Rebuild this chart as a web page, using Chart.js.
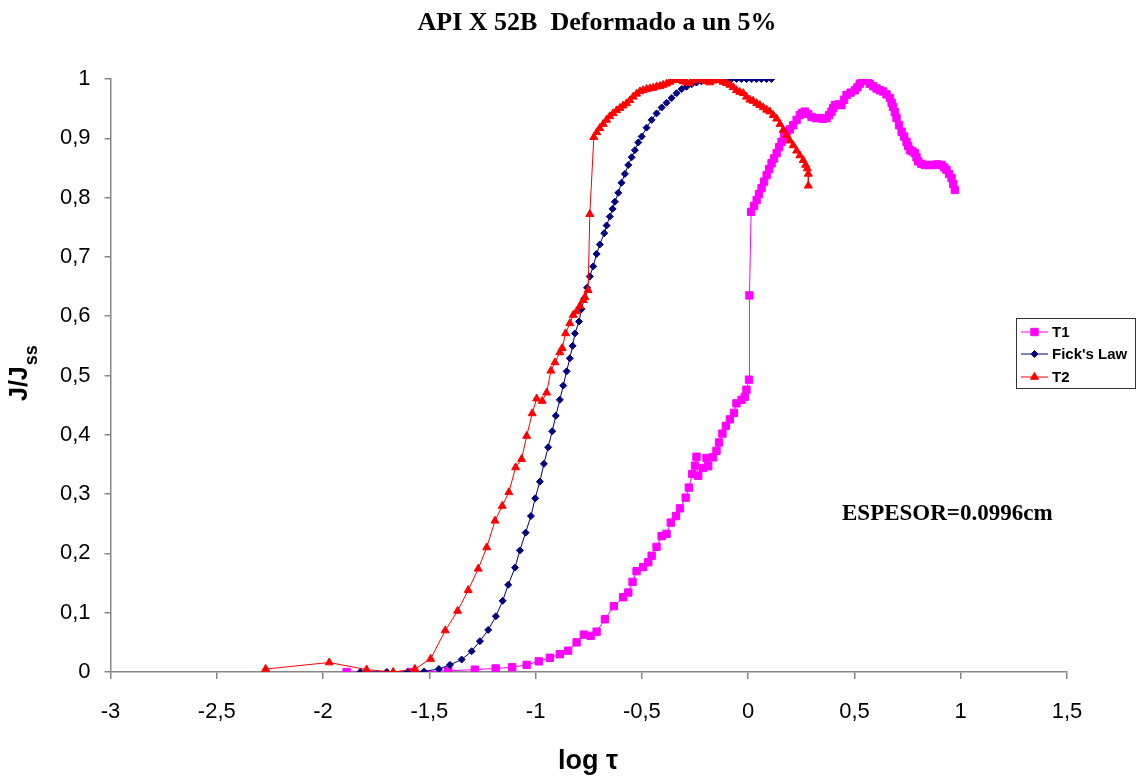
<!DOCTYPE html>
<html>
<head>
<meta charset="utf-8">
<script src="https://cdn.jsdelivr.net/npm/chart.js@4.4.0/dist/chart.umd.min.js"></script>
<style>
  body { margin: 0; background: #fff; }
  canvas { display: block; }
</style>
</head>
<body>
<canvas id="permChart" width="1137" height="782"></canvas>
<script>
// values: [log tau, J/Jss]
var t1Points = [
  [-1.889, 0], [-1.587, 0], [-1.411, 0.002], [-1.286, 0.004], [-1.188, 0.006], [-1.110, 0.008],
  [-1.042, 0.012], [-0.985, 0.018], [-0.933, 0.024], [-0.886, 0.030], [-0.847, 0.036], [-0.807, 0.050],
  [-0.773, 0.063], [-0.741, 0.061], [-0.713, 0.068], [-0.674, 0.089], [-0.632, 0.111], [-0.588, 0.126],
  [-0.564, 0.134], [-0.544, 0.152], [-0.525, 0.170], [-0.494, 0.177], [-0.470, 0.185], [-0.454, 0.196],
  [-0.431, 0.211], [-0.407, 0.229], [-0.384, 0.233], [-0.364, 0.252], [-0.340, 0.263], [-0.321, 0.276],
  [-0.294, 0.294], [-0.279, 0.311], [-0.263, 0.334], [-0.250, 0.348], [-0.243, 0.363], [-0.235, 0.331],
  [-0.212, 0.344], [-0.196, 0.361], [-0.188, 0.347], [-0.165, 0.362], [-0.149, 0.373], [-0.137, 0.387],
  [-0.121, 0.402], [-0.105, 0.415], [-0.086, 0.426], [-0.067, 0.437], [-0.055, 0.453], [-0.031, 0.459],
  [-0.016, 0.464], [-0.008, 0.476], [0.004, 0.493], [0.006, 0.635], [0.014, 0.776],
  [0.028, 0.786], [0.040, 0.796], [0.051, 0.806], [0.063, 0.816], [0.075, 0.827], [0.087, 0.838],
  [0.099, 0.848], [0.110, 0.858], [0.122, 0.866], [0.134, 0.875], [0.146, 0.885], [0.157, 0.894],
  [0.169, 0.903], [0.181, 0.911], [0.196, 0.915], [0.212, 0.922], [0.228, 0.931], [0.243, 0.939],
  [0.255, 0.943], [0.267, 0.945], [0.282, 0.941], [0.298, 0.936], [0.318, 0.934], [0.337, 0.934],
  [0.353, 0.933], [0.369, 0.934], [0.381, 0.939], [0.392, 0.945], [0.400, 0.951], [0.408, 0.956],
  [0.424, 0.957], [0.439, 0.956], [0.451, 0.965], [0.463, 0.973], [0.482, 0.977], [0.502, 0.981],
  [0.514, 0.986], [0.525, 0.992], [0.537, 0.997], [0.549, 1.0], [0.561, 0.997], [0.572, 0.992],
  [0.588, 0.988], [0.604, 0.984], [0.620, 0.981], [0.635, 0.979], [0.651, 0.974], [0.667, 0.968],
  [0.675, 0.960], [0.682, 0.953], [0.690, 0.944], [0.698, 0.934], [0.710, 0.922], [0.722, 0.911],
  [0.734, 0.903], [0.745, 0.894], [0.753, 0.887], [0.761, 0.880], [0.773, 0.878], [0.784, 0.875],
  [0.792, 0.868], [0.800, 0.861], [0.815, 0.857], [0.831, 0.855], [0.850, 0.855], [0.870, 0.855],
  [0.890, 0.856], [0.910, 0.855], [0.922, 0.851], [0.933, 0.847], [0.945, 0.840], [0.957, 0.833],
  [0.965, 0.823], [0.972, 0.813]
];

var fickPoints = [
  [-1.825, 0], [-1.700, 0], [-1.602, 0], [-1.525, 0.001], [-1.455, 0.005], [-1.403, 0.012],
  [-1.348, 0.021], [-1.301, 0.035], [-1.262, 0.052], [-1.223, 0.071], [-1.187, 0.094], [-1.155, 0.120],
  [-1.129, 0.147], [-1.097, 0.176], [-1.074, 0.205], [-1.047, 0.235], [-1.022, 0.263], [-1.002, 0.293],
  [-0.980, 0.321], [-0.961, 0.351], [-0.941, 0.379], [-0.922, 0.406], [-0.905, 0.432], [-0.886, 0.459],
  [-0.870, 0.483], [-0.854, 0.507], [-0.839, 0.529], [-0.826, 0.550], [-0.815, 0.571], [-0.796, 0.591],
  [-0.784, 0.612], [-0.771, 0.630], [-0.758, 0.648], [-0.745, 0.667], [-0.729, 0.684], [-0.713, 0.705],
  [-0.698, 0.721], [-0.677, 0.740], [-0.666, 0.753], [-0.651, 0.768], [-0.638, 0.781], [-0.627, 0.793],
  [-0.611, 0.808], [-0.596, 0.825], [-0.580, 0.840], [-0.564, 0.855], [-0.548, 0.868], [-0.533, 0.880],
  [-0.517, 0.893], [-0.501, 0.903], [-0.478, 0.918], [-0.454, 0.931], [-0.431, 0.942], [-0.407, 0.952],
  [-0.384, 0.960], [-0.360, 0.968], [-0.337, 0.976], [-0.313, 0.983], [-0.290, 0.987], [-0.266, 0.991],
  [-0.243, 0.994], [-0.220, 0.996], [-0.196, 0.997], [-0.173, 0.998], [-0.149, 0.999], [-0.126, 0.999],
  [-0.102, 1.0], [-0.079, 1.0], [-0.055, 1.0], [-0.032, 1.0], [-0.008, 1.0], [0.015, 1.0],
  [0.039, 1.0], [0.062, 1.0], [0.086, 1.0], [0.109, 1.0]
];

var t2Points = [
  [-2.270, 0.005], [-1.971, 0.016], [-1.795, 0.004], [-1.670, 0.0], [-1.568, 0.005], [-1.494, 0.022],
  [-1.425, 0.070], [-1.367, 0.103], [-1.317, 0.138], [-1.270, 0.174], [-1.230, 0.210], [-1.191, 0.255],
  [-1.157, 0.280], [-1.126, 0.303], [-1.094, 0.345], [-1.066, 0.359], [-1.042, 0.398], [-1.016, 0.436],
  [-0.995, 0.461], [-0.969, 0.457], [-0.948, 0.471], [-0.928, 0.508], [-0.909, 0.522], [-0.886, 0.539],
  [-0.875, 0.546], [-0.859, 0.571], [-0.839, 0.588], [-0.823, 0.602], [-0.807, 0.608], [-0.792, 0.617],
  [-0.776, 0.627], [-0.768, 0.632], [-0.753, 0.644], [-0.745, 0.772], [-0.726, 0.902],
  [-0.712, 0.910], [-0.698, 0.917], [-0.682, 0.924], [-0.666, 0.931], [-0.651, 0.937], [-0.635, 0.942],
  [-0.619, 0.947], [-0.603, 0.951], [-0.588, 0.955], [-0.572, 0.959], [-0.556, 0.964], [-0.541, 0.970],
  [-0.525, 0.975], [-0.509, 0.979], [-0.494, 0.981], [-0.478, 0.983], [-0.462, 0.984], [-0.447, 0.985],
  [-0.431, 0.987], [-0.415, 0.988], [-0.400, 0.990], [-0.384, 0.992], [-0.368, 0.995], [-0.352, 0.998],
  [-0.337, 0.999], [-0.321, 0.998], [-0.306, 0.996], [-0.290, 0.994], [-0.274, 0.993], [-0.258, 0.997],
  [-0.243, 1.0], [-0.227, 1.0], [-0.212, 0.998], [-0.196, 0.996], [-0.180, 0.994], [-0.165, 0.997],
  [-0.149, 1.0], [-0.133, 0.998], [-0.118, 0.995], [-0.102, 0.993], [-0.086, 0.990], [-0.070, 0.986],
  [-0.055, 0.981], [-0.039, 0.978], [-0.023, 0.976], [-0.008, 0.970], [0.008, 0.965], [0.023, 0.963],
  [0.040, 0.959], [0.055, 0.956], [0.071, 0.952], [0.087, 0.948], [0.102, 0.945], [0.118, 0.939],
  [0.134, 0.933], [0.150, 0.924], [0.165, 0.914], [0.181, 0.905], [0.196, 0.896], [0.212, 0.888],
  [0.228, 0.879], [0.243, 0.871], [0.259, 0.863], [0.270, 0.855], [0.278, 0.849], [0.283, 0.840],
  [0.283, 0.820]
];

var seriesNames = ['T1', "Fick's Law", 'T2'];
var xTicks = [-3, -2.5, -2, -1.5, -1, -0.5, 0, 0.5, 1, 1.5];
var yTicks = [0, 0.1, 0.2, 0.3, 0.4, 0.5, 0.6, 0.7, 0.8, 0.9, 1];

var SANS = "'Liberation Sans', Arial, sans-serif";
var SERIF = "'Liberation Serif', 'Times New Roman', serif";
var AXIS_GRAY = '#868686';

function toXY(points) {
  return points.map(function (p) {
    return { x: p[0], y: p[1] };
  });
}

function commaNum(v) {
  return String(Math.round(v * 10) / 10).replace('.', ',');
}

function makeDataset(label, points, color, style, radius, order) {
  return {
    label: label,
    data: toXY(points),
    showLine: true,
    borderColor: color,
    backgroundColor: color,
    borderWidth: 1,
    pointStyle: style,
    pointRadius: radius,
    pointBackgroundColor: color,
    pointBorderColor: color,
    pointBorderWidth: 1,
    tension: 0,
    order: order,
  };
}

var datasets = [
  makeDataset(seriesNames[0], t1Points, '#ff00ff', 'rect', 5.2, 3),
  makeDataset(seriesNames[1], fickPoints, '#000080', 'rectRot', 3.5, 2),
  makeDataset(seriesNames[2], t2Points, '#ff0000', 'triangle', 4.6, 1),
];

// title, axis titles, note and framed legend drawn on top of the chart
var decorations = {
  id: 'decorations',
  afterDraw: function (chart) {
    var ctx = chart.ctx;
    ctx.save();
    ctx.fillStyle = '#000';

    ctx.font = 'bold 26px ' + SERIF;
    ctx.textAlign = 'center';
    ctx.textBaseline = 'alphabetic';
    ctx.fillText('API X 52B  Deformado a un 5%', 597, 30);

    ctx.font = 'bold 27px ' + SANS;
    ctx.fillText('log \u03c4', 588, 769);

    ctx.font = 'bold 23px ' + SERIF;
    ctx.textAlign = 'left';
    ctx.fillText('ESPESOR=0.0996cm', 842, 520);

    // y title J/Jss, rotated, with subscript
    ctx.save();
    ctx.translate(27, 401);
    ctx.rotate(-Math.PI / 2);
    ctx.font = 'bold 25px ' + SANS;
    ctx.textAlign = 'left';
    ctx.fillText('J/J', 0, 0);
    var w = ctx.measureText('J/J').width;
    ctx.font = 'bold 18px ' + SANS;
    ctx.fillText('ss', w + 1, 10);
    ctx.restore();

    // legend
    var box = { x: 1016, y: 318, w: 119, h: 70 };
    ctx.fillStyle = '#fff';
    ctx.fillRect(box.x, box.y, box.w, box.h);
    ctx.strokeStyle = '#333';
    ctx.lineWidth = 1;
    ctx.strokeRect(box.x + 0.5, box.y + 0.5, box.w, box.h);
    var rows = [332, 354, 377];
    chart.data.datasets.forEach(function (ds, i) {
      var yy = rows[i];
      ctx.strokeStyle = ds.borderColor;
      ctx.fillStyle = ds.backgroundColor;
      ctx.lineWidth = 1;
      ctx.beginPath();
      ctx.moveTo(1021, yy);
      ctx.lineTo(1048, yy);
      ctx.stroke();
      Chart.helpers.drawPoint(ctx, {
        pointStyle: ds.pointStyle,
        radius: ds.pointRadius,
        rotation: 0,
        borderWidth: 1,
      }, 1034.5, yy);
      ctx.fillStyle = '#000';
      ctx.font = 'bold 15px ' + SANS;
      ctx.textAlign = 'left';
      ctx.textBaseline = 'middle';
      ctx.fillText(ds.label, 1052, yy + 1);
    });
    ctx.restore();
  },
};

var ctx = document.getElementById('permChart').getContext('2d');
new Chart(ctx, {
  type: 'scatter',
  data: { datasets: datasets },
  options: {
    responsive: false,
    animation: false,
    layout: { padding: { left: 0, top: 79, right: 70, bottom: 0 } },
    plugins: {
      legend: { display: false },
      tooltip: { enabled: false },
      title: { display: false },
    },
    scales: {
      x: {
        type: 'linear',
        min: xTicks[0],
        max: xTicks[xTicks.length - 1],
        afterBuildTicks: function (scale) {
          scale.ticks = xTicks.map(function (v) { return { value: v }; });
        },
        afterFit: function (scale) { scale.height = 110; },
        border: { display: true, color: AXIS_GRAY, width: 1.5 },
        grid: { drawOnChartArea: false, drawTicks: true, tickLength: 7, color: AXIS_GRAY, lineWidth: 1.5 },
        ticks: {
          color: '#000',
          font: { family: SANS, size: 22 },
          padding: 20,
          maxRotation: 0,
          autoSkip: false,
          callback: function (v) { return commaNum(v); },
        },
      },
      y: {
        type: 'linear',
        min: yTicks[0],
        max: yTicks[yTicks.length - 1],
        afterBuildTicks: function (scale) {
          scale.ticks = yTicks.map(function (v) { return { value: v }; });
        },
        afterFit: function (scale) { scale.width = 110.5; },
        border: { display: true, color: AXIS_GRAY, width: 1.5 },
        grid: { drawOnChartArea: false, drawTicks: true, tickLength: 6, color: AXIS_GRAY, lineWidth: 1.5 },
        ticks: {
          color: '#000',
          font: { family: SANS, size: 22 },
          padding: 14,
          autoSkip: false,
          callback: function (v) { return commaNum(v); },
        },
      },
    },
  },
  plugins: [decorations],
});
</script>
</body>
</html>
